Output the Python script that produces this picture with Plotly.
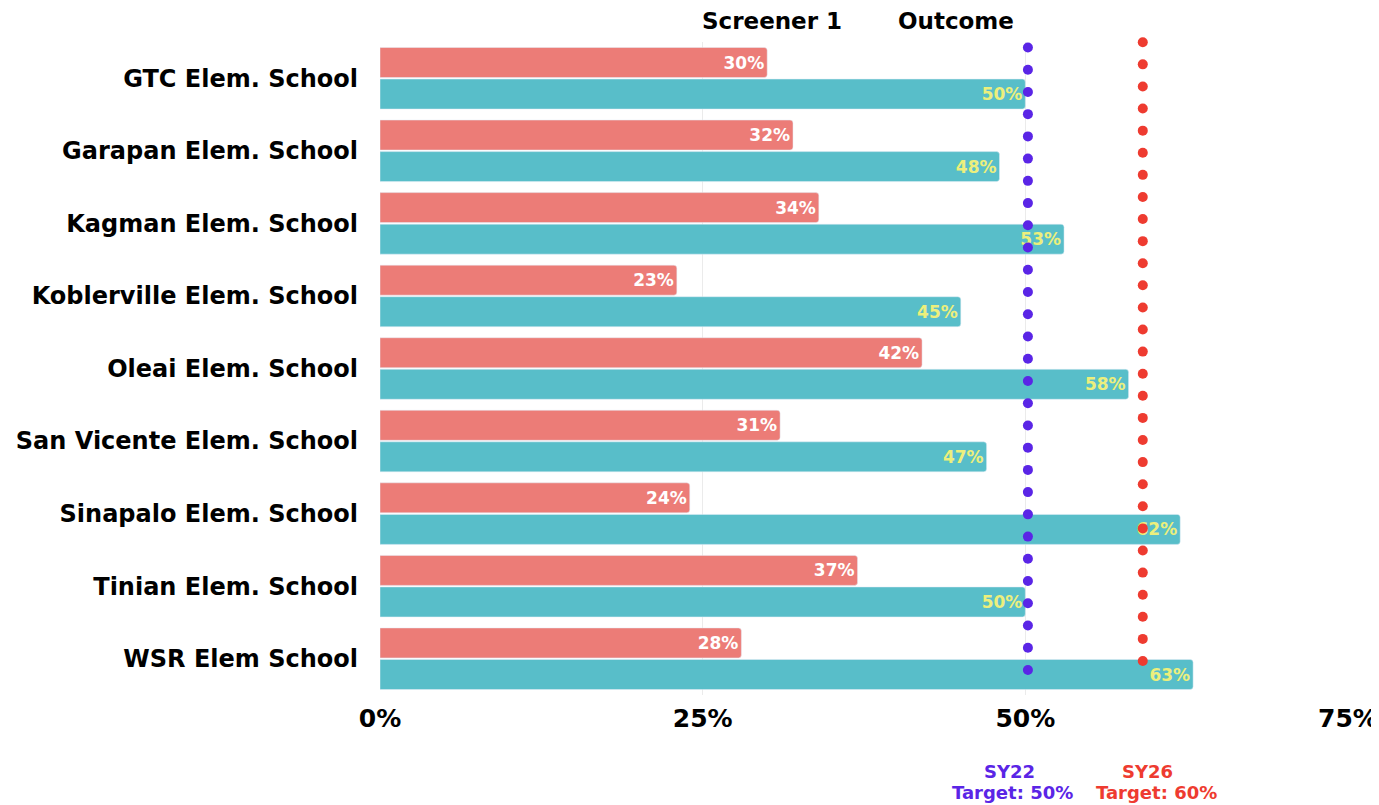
import numpy as np
import plotly.graph_objects as go

schools = ["GTC Elem. School", "Garapan Elem. School", "Kagman Elem. School",
           "Koblerville Elem. School", "Oleai Elem. School", "San Vicente Elem. School",
           "Sinapalo Elem. School", "Tinian Elem. School", "WSR Elem School"]
screener1 = [30, 32, 34, 23, 42, 31, 24, 37, 28]
outcome = [50, 48, 53, 45, 58, 47, 62, 50, 63]
series_names = ["Screener 1", "Outcome"]
target_labels = ["SY22", "SY26"]
target_texts = ["Target: 50%", "Target: 60%"]
target_positions = [50.2, 59.1]
x_ticks = [0, 25, 50, 75]
x_tick_labels = ["0%", "25%", "50%", "75%"]

RED = "#ec7c77"
TEAL = "#58bec9"
PURPLE = "#5a25e6"
DOTRED = "#ee3b30"
FONT = "DejaVu Sans"

fig = go.Figure()
fig.add_trace(go.Bar(
    y=schools, x=screener1, orientation="h", name=series_names[0],
    marker=dict(color=RED, cornerradius=3),
    text=[f"{v}%" for v in screener1], textposition="inside", insidetextanchor="end",
    textfont=dict(family=FONT, size=17, color="white", weight="bold"),
    cliponaxis=False,
))
fig.add_trace(go.Bar(
    y=schools, x=outcome, orientation="h", name=series_names[1],
    marker=dict(color=TEAL, cornerradius=3),
    text=[f"{v}%" for v in outcome], textposition="inside", insidetextanchor="end",
    textfont=dict(family=FONT, size=17, color="#ecef7c", weight="bold"),
    cliponaxis=False,
))

# dotted target reference lines drawn as dot markers on an overlay axis
purple_y = np.linspace(25, 647.3, 29)
red_y = np.linspace(34, 652.5, 29)
fig.add_trace(go.Scatter(
    x=[target_positions[0]] * len(purple_y), y=purple_y, yaxis="y2", mode="markers",
    marker=dict(color=PURPLE, size=10), hoverinfo="skip", cliponaxis=False, showlegend=False,
))
fig.add_trace(go.Scatter(
    x=[target_positions[1]] * len(red_y), y=red_y, yaxis="y2", mode="markers",
    marker=dict(color=DOTRED, size=10), hoverinfo="skip", cliponaxis=False, showlegend=False,
))

# page body has an 8px margin; figure is sized so the plot lands where the reference has it
fig.update_layout(
    width=1371, height=797,
    margin=dict(l=372, r=31, t=34, b=110),
    paper_bgcolor="white", plot_bgcolor="white",
    barmode="group", bargap=0.13, bargroupgap=0.05,
    showlegend=False,
    uniformtext=dict(mode=False),
    xaxis=dict(range=[0, 75], tickvals=x_ticks, ticktext=x_tick_labels, automargin=False,
               showgrid=True, gridcolor="#ebebeb", gridwidth=1, zeroline=False,
               showline=False, ticks="", ticklabelstandoff=6,
               tickfont=dict(family=FONT, size=25, color="black", weight="bold")),
    yaxis=dict(autorange="reversed", showgrid=False, showline=False, ticks="",
               ticklabelstandoff=21, automargin=False,
               tickfont=dict(family=FONT, size=24, color="black", weight="bold")),
    yaxis2=dict(overlaying="y", range=[0, 652.75], visible=False, fixedrange=True,
                automargin=False),
)

header_x = [772, 956]
for name, px in zip(series_names, header_x):
    fig.add_annotation(x=(px - 380) / 968 * 75, xref="x", y=1, yref="paper",
                       yshift=21, yanchor="middle", text=name, showarrow=False,
                       font=dict(family=FONT, size=23, color="black", weight="bold"))

colors = [PURPLE, DOTRED]
label_x = [48.8, 59.5]
text_x = [49.0, 60.2]
for lab, txt, lx, tx, c in zip(target_labels, target_texts, label_x, text_x, colors):
    fig.add_annotation(x=lx, xref="x", y=0, yref="paper", yanchor="middle", yshift=-76,
                       text=lab, showarrow=False,
                       font=dict(family=FONT, size=18, color=c, weight="bold"))
    fig.add_annotation(x=tx, xref="x", y=0, yref="paper", yanchor="middle", yshift=-97,
                       text=txt, showarrow=False,
                       font=dict(family=FONT, size=18, color=c, weight="bold"))

fig.write_html("out.html")
